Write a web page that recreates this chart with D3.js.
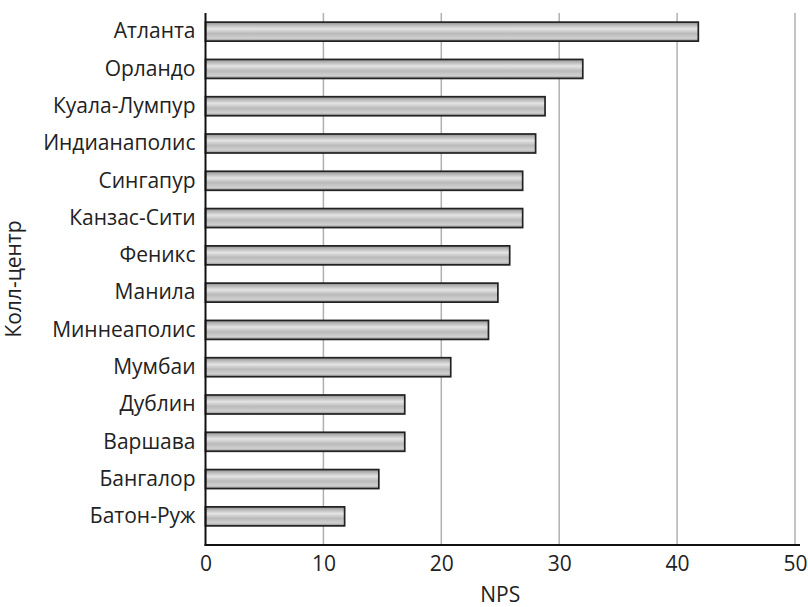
<!DOCTYPE html>
<html><head><meta charset="utf-8">
<script src="https://cdn.jsdelivr.net/npm/d3@7"></script>
<style>body{margin:0;background:#fff}svg{display:block}text{font-family:"Open Sans",sans-serif;fill:#222}</style>
</head><body><svg id="c" width="808" height="607"></svg>
<script>
const categories=["Атланта","Орландо","Куала-Лумпур","Индианаполис","Сингапур","Канзас-Сити","Феникс","Манила","Миннеаполис","Мумбаи","Дублин","Варшава","Бангалор","Батон-Руж"];
const values=[41.8,32.0,28.8,28.0,26.9,26.9,25.8,24.8,24.0,20.8,16.9,16.9,14.7,11.8];
const xTicks=[0,10,20,30,40,50];
const xTitle="NPS", yTitle="Колл-центр";

const FS="21px";
const svg=d3.select("#c");
const x=d3.scaleLinear().domain([0,50]).range([205.5,795]);
const y=d3.scaleBand().domain(categories).range([13,535]).paddingInner(0.49).paddingOuter(0.245);

const defs=svg.append("defs");
const g=defs.append("linearGradient").attr("id","bar").attr("x1",0).attr("y1",0).attr("x2",0).attr("y2",1);
[[0,"#8a8a8a"],[0.12,"#b0b0b0"],[0.35,"#e4e4e4"],[0.6,"#bababa"],[0.85,"#d0d0d0"],[1,"#8a8a8a"]].forEach(s=>g.append("stop").attr("offset",s[0]).attr("stop-color",s[1]));

svg.append("g").selectAll("line").data(xTicks.filter(d=>d>0)).join("line")
 .attr("x1",d=>x(d)).attr("x2",d=>x(d)).attr("y1",13).attr("y2",545)
 .attr("stroke","#b0b0b0").attr("stroke-width",1.5);

svg.append("g").selectAll("rect").data(values).join("rect")
 .attr("x",x(0)).attr("y",(d,i)=>y(categories[i]))
 .attr("width",d=>x(d)-x(0)).attr("height",y.bandwidth())
 .attr("fill","url(#bar)").attr("stroke","#222").attr("stroke-width",1.7);

svg.append("line").attr("x1",x(0)).attr("x2",x(0)).attr("y1",13).attr("y2",545.5).attr("stroke","#111").attr("stroke-width",2);
svg.append("line").attr("x1",x(0)-1).attr("x2",800).attr("y1",545).attr("y2",545).attr("stroke","#111").attr("stroke-width",2);

const xa=svg.append("g").attr("transform","translate(0,545)").call(d3.axisBottom(x).tickValues(xTicks).tickSize(0).tickPadding(11));
xa.select(".domain").remove();
xa.selectAll("text").style("font-size",FS).style("font-family","'Open Sans',sans-serif").attr("fill","#222");

const ya=svg.append("g").attr("transform",`translate(${x(0)},0)`).call(d3.axisLeft(y).tickSize(0).tickPadding(10));
ya.select(".domain").remove();
ya.selectAll("text").style("font-size",FS).style("font-family","'Open Sans',sans-serif").attr("fill","#222");

svg.append("text").attr("x",(x(0)+x(50))/2).attr("y",602).attr("text-anchor","middle").style("font-size",FS).text(xTitle);
svg.append("text").attr("transform",`translate(21,${(13+545)/2}) rotate(-90)`).attr("text-anchor","middle").style("font-size",FS).text(yTitle);
</script></body></html>
